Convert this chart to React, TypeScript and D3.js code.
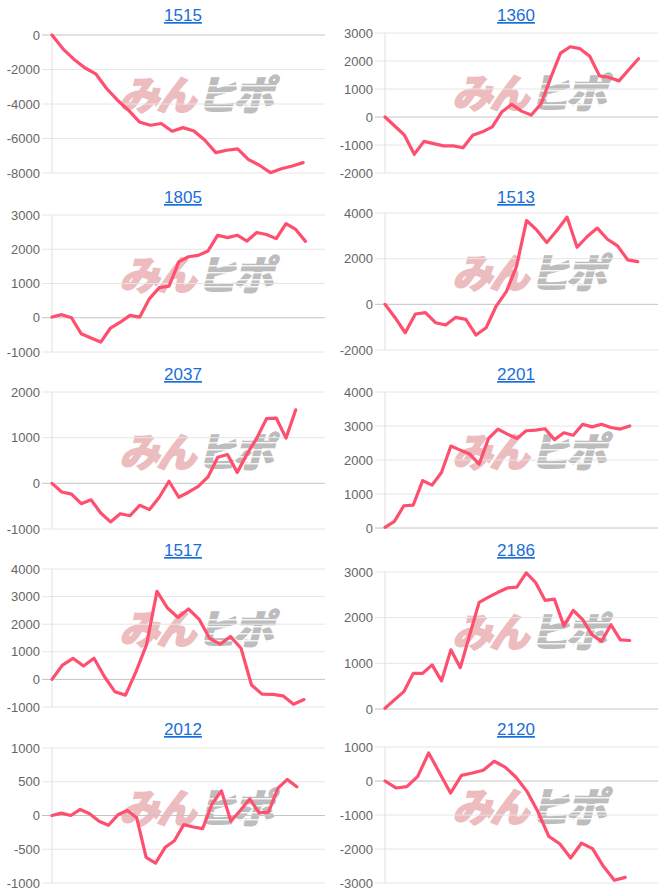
import React from 'react';
import * as d3 from 'd3';

const titles = ['1515', '1360', '1805', '1513', '2037', '2201', '1517', '2186', '2012', '2120'];

const s1515 = [0, -800, -1400, -1900, -2250, -3100, -3780, -4360, -5040, -5230, -5130, -5580, -5370, -5560, -6100, -6820, -6680, -6600, -7220, -7550, -7980, -7750, -7590, -7400];
const s1360 = [0, -320, -650, -1330, -870, -950, -1030, -1030, -1100, -650, -530, -350, 190, 450, 210, 70, 470, 1400, 2280, 2510, 2440, 2170, 1470, 1410, 1290, 1690, 2080];
const s1805 = [20, 90, 0, -470, -590, -710, -300, -130, 70, 20, 560, 880, 920, 1630, 1780, 1820, 1950, 2410, 2340, 2410, 2240, 2490, 2430, 2310, 2750, 2580, 2230];
const s1513 = [0, -585, -1245, -425, -365, -805, -905, -570, -660, -1345, -1025, -75, 555, 1650, 3670, 3260, 2710, 3230, 3820, 2500, 2970, 3340, 2850, 2560, 1950, 1870];
const s2037 = [0, -190, -235, -445, -360, -650, -845, -665, -710, -480, -575, -305, 45, -305, -195, -65, 140, 570, 630, 240, 640, 990, 1415, 1430, 990, 1610];
const s2201 = [20, 195, 655, 675, 1395, 1260, 1630, 2410, 2290, 2175, 1880, 2635, 2910, 2760, 2635, 2860, 2880, 2920, 2600, 2800, 2730, 3050, 2975, 3050, 2955, 2910, 3000];
const s1517 = [0, 520, 765, 485, 765, 95, -450, -570, 280, 1250, 3190, 2585, 2245, 2550, 2185, 1490, 1275, 1555, 1130, -205, -535, -545, -595, -900, -730];
const s2186 = [15, 200, 380, 780, 780, 965, 615, 1295, 905, 1625, 2335, 2450, 2555, 2650, 2670, 2980, 2770, 2380, 2405, 1820, 2160, 1955, 1625, 1480, 1845, 1515, 1500];
const s2012 = [0, 35, 0, 90, 25, -85, -145, 10, 75, -35, -620, -705, -475, -375, -135, -170, -195, 170, 365, -85, 75, 245, 40, 50, 405, 535, 425];
const s2120 = [0, -205, -165, 135, 825, 235, -355, 165, 235, 315, 580, 410, 110, -305, -900, -1630, -1845, -2265, -1825, -1990, -2510, -2920, -2835];

const series = [s1515, s1360, s1805, s1513, s2037, s2201, s1517, s2186, s2012, s2120];

const yTicks = [
  [0, -2000, -4000, -6000, -8000],
  [3000, 2000, 1000, 0, -1000, -2000],
  [3000, 2000, 1000, 0, -1000],
  [4000, 2000, 0, -2000],
  [2000, 1000, 0, -1000],
  [4000, 3000, 2000, 1000, 0],
  [4000, 3000, 2000, 1000, 0, -1000],
  [3000, 2000, 1000, 0],
  [1000, 500, 0, -500, -1000],
  [1000, 0, -1000, -2000, -3000],
];

const labelCounts = [26, 29, 29, 28, 29, 30, 27, 30, 30, 26];

// layout (pixels)
const plotTops = [35, 33, 215, 213, 392, 392, 569, 572, 748, 747];
const plotBottoms = [173, 173, 352, 350, 529, 528, 707, 709, 883, 883];
const titleYs = [15, 15, 197, 197, 374, 374, 550, 550, 729, 729];

const LINE = '#ff4f6f';

function Panel({ i }: { i: number }) {
  const col = i % 2;
  const colX = col * 333;
  const left = colX + 52;
  const right = colX + 325;
  const top = plotTops[i];
  const bottom = plotBottoms[i];
  const ticks = yTicks[i];
  const data = series[i];
  const x = d3.scaleLinear().domain([0, labelCounts[i] - 1]).range([left, right]);
  const y = d3.scaleLinear().domain([d3.min(ticks)!, d3.max(ticks)!]).range([bottom, top]);
  const line = d3.line<number>().x((_, k) => x(k)).y((d) => y(d));
  const wmX = colX + 198;
  const wmY = top + 60;
  const jp = "'Noto Sans CJK JP', sans-serif";
  return (
    <g>
      <text x={colX + 183} y={titleYs[i] + 6} textAnchor="middle" fontSize={17}
        fontFamily="Arial, 'Liberation Sans', sans-serif" fill="#1a6ed8" textDecoration="underline">{titles[i]}</text>
      {/* watermark */}
      <g transform={`translate(${wmX},${wmY}) skewX(-14)`}>
        <text x={-1} y={15} textAnchor="end" fontSize={40} fontWeight={900} letterSpacing={-3}
          fontFamily={jp} fill="#ecbcbf" stroke="#ecbcbf" strokeWidth={1.5}>みん</text>
        <text x={2} y={15} textAnchor="start" fontSize={40} fontWeight={900} letterSpacing={-3}
          fontFamily={jp} fill="#bdbdbd" stroke="#bdbdbd" strokeWidth={1.5}>ヒポ</text>
        {[-10, -3, 4, 11].map((dy) => (
          <rect key={dy} x={2} y={dy} width={90} height={1.6} fill="#ffffff" opacity={0.85} />
        ))}
      </g>
      {ticks.map((t) => (
        <g key={t}>
          <line x1={left - 10} x2={right} y1={y(t)} y2={y(t)}
            stroke={t === 0 ? '#c4c4c4' : '#e6e6e6'} strokeWidth={1} />
          <text x={left - 12} y={y(t)} dy="0.35em" textAnchor="end" fontSize={13}
            fontFamily="Arial, 'Liberation Sans', sans-serif" fill="#666">{t}</text>
        </g>
      ))}
      <line x1={left} x2={left} y1={top} y2={bottom} stroke="#e0e0e0" strokeWidth={1} />
      <path d={line(data) || ''} fill="none" stroke={LINE} strokeWidth={3.2}
        strokeLinejoin="round" strokeLinecap="round" />
    </g>
  );
}

export default function App() {
  return (
    <svg width={666} height={891} style={{ position: 'absolute', left: 0, top: 0, background: '#fff' }}>
      <rect width={666} height={891} fill="#fff" />
      {titles.map((_, i) => <Panel key={i} i={i} />)}
    </svg>
  );
}
